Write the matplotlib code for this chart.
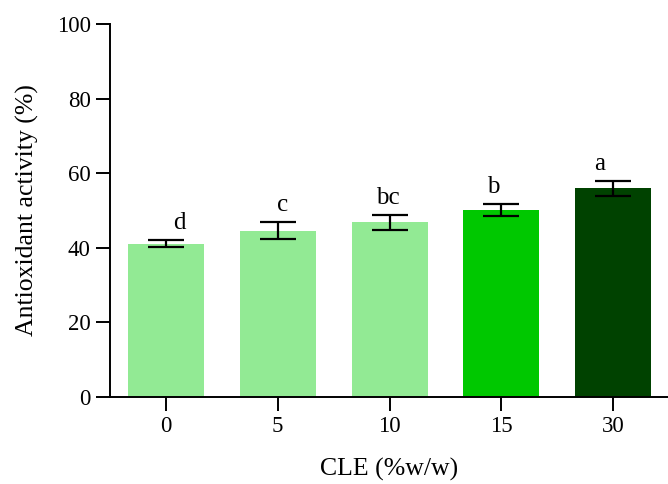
import matplotlib
matplotlib.use("Agg")
import matplotlib.pyplot as plt
import numpy as np

# CLE content (%w/w) and antioxidant activity (%)
cle_levels = ["0", "5", "10", "15", "30"]
activity = [41.1, 44.6, 46.8, 50.1, 55.9]
activity_err = [1.0, 2.2, 2.0, 1.7, 2.1]
letters = ["d", "c", "bc", "b", "a"]
bar_colors = ["#92EA94", "#92EA94", "#92EA94", "#00C800", "#004200"]
letter_dx = [13, 5, -2, -8, -14]  # pixel nudges of the letters as placed in the original

plt.rcParams["font.family"] = ["Liberation Serif", "DejaVu Serif"]

fig = plt.figure(figsize=(6.68, 4.84), dpi=100)
ax = fig.add_axes([0.1647, 0.1798, 0.8353, 0.7706])

x = np.arange(len(cle_levels))
ax.bar(x, activity, width=0.68, color=bar_colors, zorder=2)
ax.errorbar(x, activity, yerr=activity_err, fmt="none", ecolor="black",
            elinewidth=1.6, capsize=13, capthick=1.6, zorder=3)

for xi, val, err, lab, dx in zip(x, activity, activity_err, letters, letter_dx):
    ax.annotate(lab, (xi, val + err), xytext=(dx * 0.72, 8), textcoords="offset points",
                ha="center", va="baseline", fontsize=18)

ax.set_xlim(-0.5, 4.49)
ax.set_ylim(0, 100)
ax.set_yticks([0, 20, 40, 60, 80, 100])
ax.set_xticks(x)
ax.set_xticklabels(cle_levels)

for side in ["top", "right"]:
    ax.spines[side].set_visible(False)
for side in ["left", "bottom"]:
    ax.spines[side].set_linewidth(1.4)

ax.tick_params(axis="both", length=10, width=1.4, labelsize=16.5, pad=4)

ax.set_ylabel("Antioxidant activity (%)", fontsize=18.5, labelpad=13)
ax.set_xlabel("CLE (%w/w)", fontsize=18.5, labelpad=15)

fig.savefig("out.png", dpi=100)
